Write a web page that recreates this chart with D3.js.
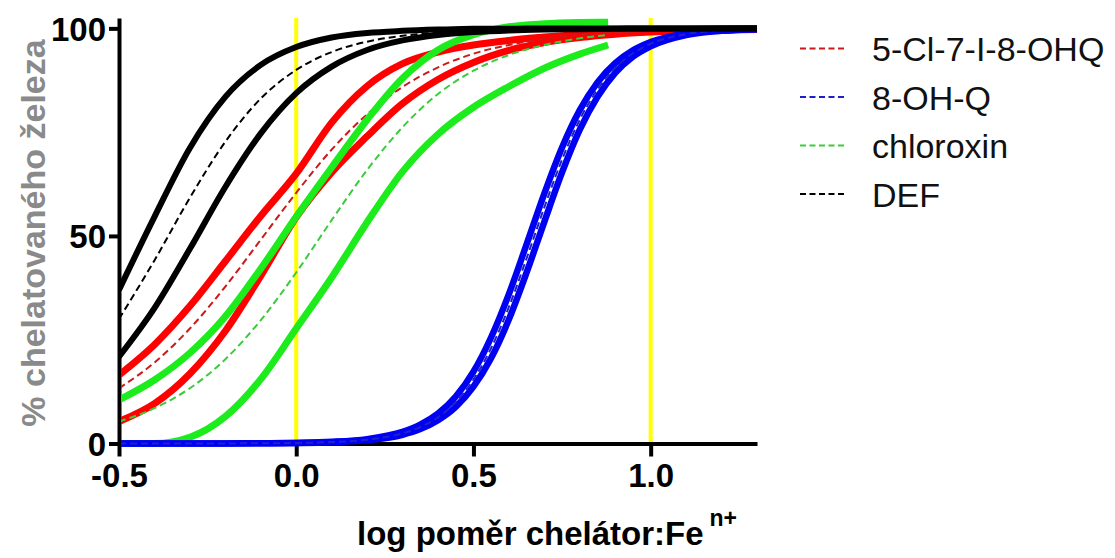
<!DOCTYPE html>
<html>
<head>
<meta charset="utf-8">
<script src="https://cdn.jsdelivr.net/npm/d3@7"></script>
<style>
  body { margin: 0; background: #fff; }
  svg { display: block; font-family: Arial, "Liberation Sans", sans-serif; }
</style>
</head>
<body>
<div id="chart"></div>
<script>
// values (log ratio vs % chelated iron)
const xGrid = [-0.5, -0.4, -0.3, -0.2, -0.1, 0, 0.1, 0.2, 0.3, 0.4, 0.5, 0.6, 0.7, 0.8, 0.9, 1.0, 1.1, 1.2, 1.3];
const xGreen = [-0.5, -0.4, -0.3, -0.2, -0.1, 0, 0.1, 0.2, 0.3, 0.4, 0.5, 0.6, 0.7, 0.8, 0.88];
const xBlue = [-0.5, -0.3, -0.1, 0, 0.1, 0.2, 0.3, 0.35, 0.4, 0.45, 0.5, 0.55, 0.6, 0.65, 0.7, 0.75, 0.8, 0.85, 0.9, 0.95, 1.0, 1.1, 1.2, 1.3];

// 5-Cl-7-I-8-OHQ
const clqUpper = [16.5, 23.8, 33.1, 43.9, 54.8, 65, 77.3, 86.1, 91.5, 94.3, 96.0, 97.1, 97.9, 98.6, 99.1, 99.5, 99.7, 99.9, 100];
const clqFit   = [13.3, 19.5, 27.7, 37.8, 49.1, 60.4, 70.8, 79.3, 85.9, 90.6, 93.9, 96.0, 97.5, 98.4, 99.0, 99.35, 99.6, 99.75, 99.85];
const clqLower = [5.3, 9.6, 16.8, 27.1, 40.4, 54.5, 65.3, 74.0, 81.9, 87.7, 91.8, 94.7, 96.6, 97.8, 98.6, 99.1, 99.4, 99.6, 99.75];

// 8-OH-Q
const oxqUpper = [0, 0.01, 0.05, 0.15, 0.4, 1.06, 2.8, 4.53, 7.2, 11.3, 17.3, 25.6, 36.0, 48.0, 60.2, 71.3, 80.3, 87.0, 91.6, 94.7, 96.7, 98.8, 99.5, 99.8];
const oxqFit   = [0, 0.01, 0.05, 0.13, 0.35, 0.92, 2.45, 3.96, 6.3, 9.98, 15.4, 23.0, 32.9, 44.6, 56.9, 68.4, 78.0, 85.3, 90.5, 94.0, 96.3, 98.6, 99.5, 99.8];
const oxqLower = [0, 0.01, 0.04, 0.11, 0.3, 0.81, 2.1, 3.47, 5.6, 8.8, 13.7, 20.6, 29.9, 41.2, 53.4, 65.3, 75.6, 83.5, 89.3, 93.2, 95.7, 98.4, 99.4, 99.8];

// chloroxin
const chxUpper = [10.5, 15.3, 21.8, 30.6, 42.1, 54.6, 66.5, 78, 88, 94.8, 98.5, 100.4, 101.1, 101.4, 101.5];
const chxFit   = [5.3, 8.5, 13.3, 20.3, 29.7, 41.2, 53.8, 65.9, 76.2, 84.2, 89.8, 93.6, 96.0, 97.6, 98.4];
const chxLower = [0, 0, 1.5, 6.5, 15.5, 27.7, 40, 53.3, 65.5, 74.5, 81, 86, 90.4, 93.8, 96];

// DEF
const defUpper = [37, 54.6, 71.2, 83.5, 91.2, 95.5, 97.8, 98.9, 99.4, 99.7, 99.9, 99.9, 100, 100, 100, 100, 100, 100, 100];
const defFit   = [30, 44.1, 59.2, 72.7, 83.1, 90, 94.3, 96.8, 98.2, 99.0, 99.5, 99.7, 99.9, 99.9, 100, 100, 100, 100, 100];
const defLower = [20.9, 32.6, 46.9, 61.8, 74.7, 84.4, 90.8, 94.8, 97.1, 98.4, 99.1, 99.5, 99.7, 99.8, 99.9, 100, 100, 100, 100];

const names = ["5-Cl-7-I-8-OHQ", "8-OH-Q", "chloroxin", "DEF"];
const xTicks = [-0.5, 0, 0.5, 1.0];
const yTicks = [0, 50, 100];
const refLines = [0, 1];

const series = [
    {name: names[0], x: xGrid, upper: clqUpper, fit: clqFit, lower: clqLower, color: "#ff0000", dash: "#cc1a1a", w: 7},
    {name: names[1], x: xBlue, upper: oxqUpper, fit: oxqFit, lower: oxqLower, color: "#0000f2", dash: "#2020c8", w: 6.5},
    {name: names[2], x: xGreen, upper: chxUpper, fit: chxFit, lower: chxLower, color: "#1cec1c", dash: "#3ccb3c", w: 7},
    {name: names[3], x: xGrid, upper: defUpper, fit: defFit, lower: defLower, color: "#000000", dash: "#000000", w: 6}
];
// drawing order: green under blue (blue hides the clipped part of the green band)
const drawOrder = [0, 2, 1, 3];

const width = 1115, height = 558;

const svg = d3.select("#chart").append("svg")
    .attr("width", width)
    .attr("height", height);

const x = d3.scaleLinear().domain([-0.5, 1.3]).range([119, 757]);
const y = d3.scaleLinear().domain([0, 102.5]).range([443.5, 18]);

// yellow reference lines
svg.append("g").selectAll("line")
    .data(refLines)
    .join("line")
        .attr("x1", d => x(d)).attr("x2", d => x(d))
        .attr("y1", y(102.5)).attr("y2", y(0))
        .attr("stroke", "#ffff00")
        .attr("stroke-width", 4);

// axes
const yAxis = svg.append("g")
    .attr("transform", `translate(${x(-0.5)},0)`)
    .call(d3.axisLeft(y).tickValues(yTicks).tickSize(10).tickSizeOuter(0).tickPadding(3).tickFormat(d => String(d)));

const xAxis = svg.append("g")
    .attr("transform", `translate(0,${y(0)})`)
    .call(d3.axisBottom(x).tickValues(xTicks).tickSize(13).tickSizeOuter(0).tickPadding(6).tickFormat(d => d.toFixed(1)));

[yAxis, xAxis].forEach(g => {
    g.select(".domain").attr("stroke", "#000").attr("stroke-width", 4);
    g.selectAll(".tick line").attr("stroke", "#000").attr("stroke-width", 4);
    g.selectAll(".tick text")
        .attr("fill", "#000")
        .style("font-size", "33px")
        .style("font-weight", "bold")
        .style("font-family", "Arial, 'Liberation Sans', sans-serif");
});
yAxis.selectAll(".tick text").attr("dy", "0.36em");
xAxis.selectAll(".tick text").attr("dy", "0.75em");

// curves, clipped at the y axis
svg.append("clipPath").attr("id", "plotclip")
  .append("rect")
    .attr("x", x(-0.5) + 2).attr("y", 0)
    .attr("width", width).attr("height", height);

const plot = svg.append("g").attr("clip-path", "url(#plotclip)");

const line = d3.line()
    .x(d => x(d[0]))
    .y(d => y(d[1]))
    .curve(d3.curveMonotoneX);

drawOrder.map(i => series[i]).forEach(s => {
    const g = plot.append("g");
    [s.upper, s.lower].forEach(vals => {
        g.append("path")
            .attr("d", line(s.x.map((v, i) => [v, vals[i]])))
            .attr("fill", "none")
            .attr("stroke", s.color)
            .attr("stroke-width", s.w);
    });
    g.append("path")
        .attr("d", line(s.x.map((v, i) => [v, s.fit[i]])))
        .attr("fill", "none")
        .attr("stroke", s.dash)
        .attr("stroke-width", 2)
        .attr("stroke-dasharray", "7,4");
});

// legend
const legend = svg.append("g")
    .selectAll("g")
    .data(series)
    .join("g")
        .attr("transform", (d, i) => `translate(800,${48.5 + i * 48.5})`);

legend.append("line")
    .attr("x1", 0).attr("x2", 47)
    .attr("stroke", d => d.dash)
    .attr("stroke-width", 1.8)
    .attr("stroke-dasharray", "6,3.5");

legend.append("text")
    .attr("x", 72)
    .attr("y", 12.5)
    .style("font-size", "34px")
    .attr("fill", "#111")
    .text(d => d.name);

// axis titles
svg.append("text")
    .attr("transform", `translate(45,${233}) rotate(-90)`)
    .attr("text-anchor", "middle")
    .style("font-size", "34px")
    .style("font-weight", "bold")
    .attr("fill", "#8a8a8a")
    .text("% chelatovaného železa");

const xt = svg.append("text")
    .attr("x", 357)
    .attr("y", 545)
    .style("font-size", "33px")
    .style("font-weight", "bold")
    .attr("fill", "#000");
xt.append("tspan").text("log poměr chelátor:Fe");
xt.append("tspan")
    .attr("dx", 6)
    .attr("dy", -19)
    .style("font-size", "23px")
    .text("n+");
</script>
</body>
</html>
